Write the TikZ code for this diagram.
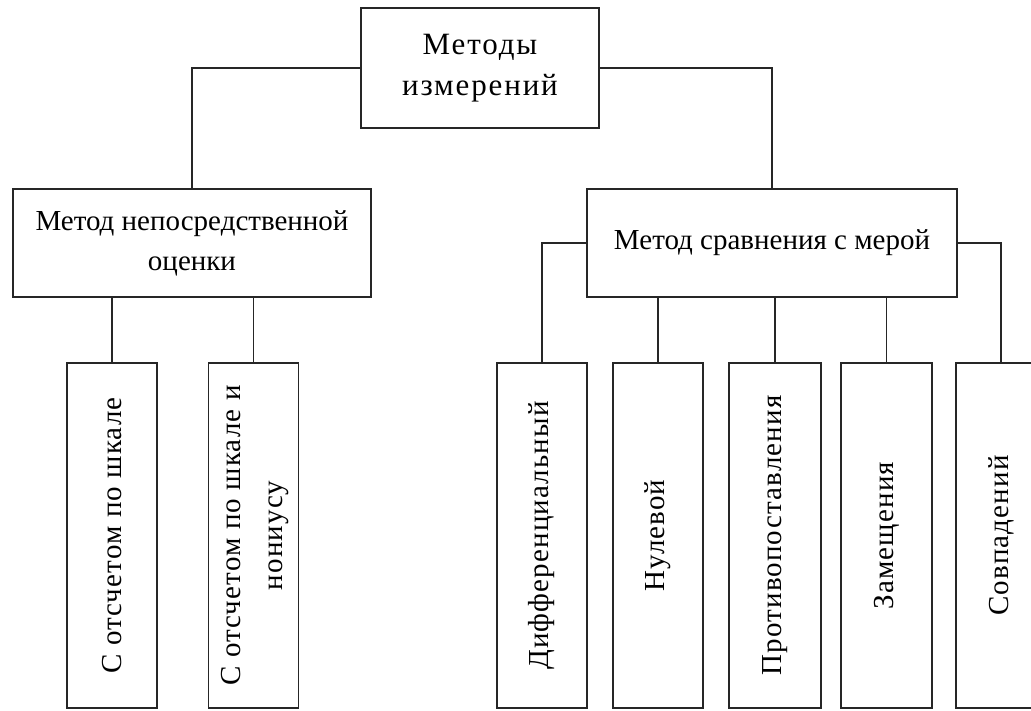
\documentclass[tikz,border=0pt]{standalone}
\usepackage{fontspec}
\setmainfont{Liberation Serif}

\begin{document}
\begin{tikzpicture}[x = 1pt, y = -1pt,
	box/.style = {draw = black!85,
		line width = 1.3pt,
		align = center,
		inner sep = 0pt,
		font = \fontsize{29}{40}\selectfont},
	tall/.style = {box,
		minimum width = 90pt,
		minimum height = 345pt,
		font = \fontsize{29}{42}\selectfont\addfontfeature{LetterSpace=4}},
	link/.style = {draw = black!85, line width = 1.3pt}]

	\useasboundingbox (0,0) rectangle (1031,710);
	\clip (0,0) rectangle (1031,710);

	\node[box,
		  minimum width = 238pt,
		  minimum height = 120pt,
		  font = \fontsize{31}{41}\selectfont\addfontfeature{LetterSpace=6}](top) at (480,68){Методы\\измерений};

	\node[box,
		  minimum width = 358pt,
		  minimum height = 108pt](direct) at (192,243){Метод непосредственной\\оценки};
	\node[box,
		  minimum width = 370pt,
		  minimum height = 108pt](measure) at (772,243){Метод сравнения с мерой};

	\node[tall](scale) at (112,535.5){\rotatebox{90}{С отсчетом по шкале}};
	\node[tall](vernier) at (253.5,535.5){\rotatebox{90}{\begin{tabular}{@{}c@{}}С отсчетом по шкале и\\нониусу\end{tabular}}};

	\node[tall](diff) at (542,535.5){\rotatebox{90}{Дифференциальный}};
	\node[tall](zero) at (658,535.5){\rotatebox{90}{Нулевой}};
	\node[tall, minimum width = 92pt](oppos) at (775,535.5){\rotatebox{90}{Противопоставления}};
	\node[tall, minimum width = 91pt](subst) at (886.5,535.5){\rotatebox{90}{Замещения}};
	\node[tall](coinc) at (1001,535.5){\rotatebox{90}{Совпадений}};

	\draw[link] (top.west) -| (direct.north);
	\draw[link] (top.east) -| (measure.north);

	\draw[link] (direct.south -| scale.north) -- (scale.north);
	\draw[link] (direct.south -| vernier.north) -- (vernier.north);

	\draw[link] (measure.west) -| (diff.north);
	\draw[link] (measure.south -| zero.north) -- (zero.north);
	\draw[link] (measure.south -| oppos.north) -- (oppos.north);
	\draw[link] (measure.south -| subst.north) -- (subst.north);
	\draw[link] (measure.east) -| (coinc.north);

\end{tikzpicture}
\end{document}
